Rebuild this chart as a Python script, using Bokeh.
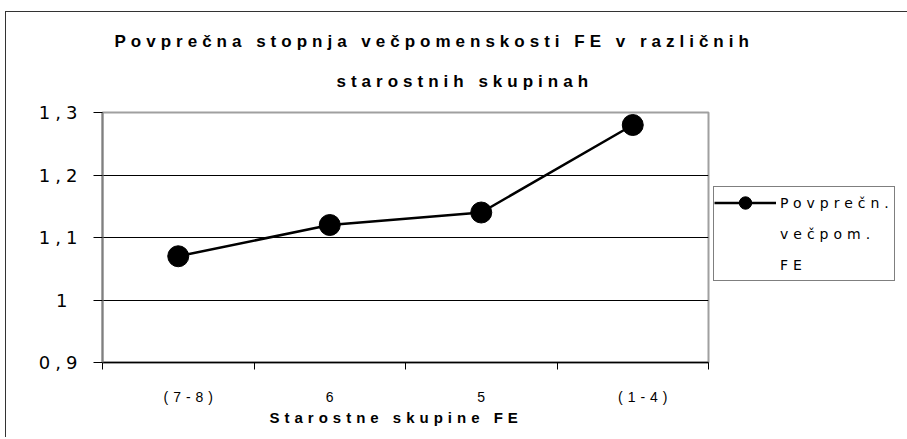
from bokeh.plotting import figure
from bokeh.models import FixedTicker, Legend, LegendItem, Title
from bokeh.embed import file_html
from bokeh.resources import INLINE

categories = ["(7-8)", "6", "5", "(1-4)"]
values = [1.07, 1.12, 1.14, 1.28]
y_ticks = [0.9, 1.0, 1.1, 1.2, 1.3]
y_tick_labels = ["0,9", "1", "1,1", "1,2", "1,3"]
title_lines = ["Povprečna stopnja večpomenskosti FE v različnih", "starostnih skupinah"]
x_title = "Starostne skupine FE"
legend_lines = ["Povprečn.", "večpom.", "FE"]

x_centers = [i + 0.5 for i in range(len(categories))]
x_bounds = [float(i) for i in range(len(categories) + 1)]

p = figure(frame_width=606, frame_height=250,
           x_range=(0, len(categories)), y_range=(y_ticks[0], y_ticks[-1]),
           output_backend="svg", toolbar_location=None,
           min_border_left=96, min_border_right=197, min_border_top=100, min_border_bottom=75,
           background_fill_color="white", border_fill_color="white",
           styles={"margin-left": "5px", "margin-top": "11px",
                   "border-top": "1px solid #333333", "border-left": "1px solid #333333",
                   "letter-spacing": "5px"})

p.title = None
# first added = closest to the plot frame
p.add_layout(Title(text=title_lines[1], align="left", offset=234, text_font="Liberation Sans",
                   text_font_style="bold", text_font_size="17px", text_color="black",
                   standoff=44), "above")
p.add_layout(Title(text=title_lines[0], align="left", offset=12, text_font="Liberation Sans",
                   text_font_style="bold", text_font_size="17px", text_color="black",
                   standoff=-6), "above")

line_r = p.line(x_centers, values, line_color="black", line_width=2.5)
scat_r = p.scatter(x_centers, values, size=21, fill_color="black", line_color="black")
# empty, invisible renderer: only carries the wrapped legend lines
blank_r = p.scatter([], [], size=0, fill_alpha=0, line_alpha=0)

p.outline_line_color = "#a0a0a0"
p.outline_line_width = 2

yax = p.yaxis[0]
yax.ticker = FixedTicker(ticks=y_ticks)
yax.major_label_overrides = dict(zip(y_ticks, y_tick_labels))
yax.minor_tick_line_color = None
yax.major_tick_in = 0
yax.major_tick_out = 9
yax.major_tick_line_color = "black"
yax.axis_line_color = "#808080"
yax.axis_line_width = 2
yax.major_label_standoff = 26
yax.major_label_text_font = "DejaVu Sans"
yax.major_label_text_font_size = "18px"
yax.major_label_text_color = "black"

xax = p.xaxis[0]
xax.ticker = FixedTicker(ticks=x_centers, minor_ticks=x_bounds)
xax.major_label_overrides = dict(zip(x_centers, categories))
xax.major_tick_in = 0
xax.major_tick_out = 0
xax.minor_tick_in = 0
xax.minor_tick_out = 7
xax.minor_tick_line_color = "black"
xax.axis_line_color = "black"
xax.axis_line_width = 1.5
xax.major_label_standoff = 19
xax.major_label_text_font = "Liberation Sans"
xax.major_label_text_font_size = "14px"
xax.major_label_text_color = "black"

p.add_layout(Title(text=x_title, align="left", offset=167, text_font="Liberation Sans",
                   text_font_style="bold", text_font_size="15px", text_color="black",
                   standoff=-1), "below")

p.xgrid.grid_line_color = None
p.ygrid.ticker = FixedTicker(ticks=y_ticks)
p.ygrid.grid_line_color = "black"
p.ygrid.grid_line_width = 1

legend = Legend(items=[LegendItem(label=legend_lines[0], renderers=[line_r, scat_r]),
                       LegendItem(label=legend_lines[1], renderers=[blank_r]),
                       LegendItem(label=legend_lines[2], renderers=[blank_r])],
                location=(5, 81), orientation="vertical",
                border_line_color="black", border_line_width=1,
                background_fill_color="white", background_fill_alpha=1,
                padding=0, margin=0, spacing=0,
                glyph_width=62, glyph_height=31, label_standoff=4, label_width=114,
                label_height=31,
                label_text_font="DejaVu Sans", label_text_font_size="14px",
                label_text_color="black")
p.add_layout(legend, "right")

open("out.html", "w").write(file_html(p, INLINE))
